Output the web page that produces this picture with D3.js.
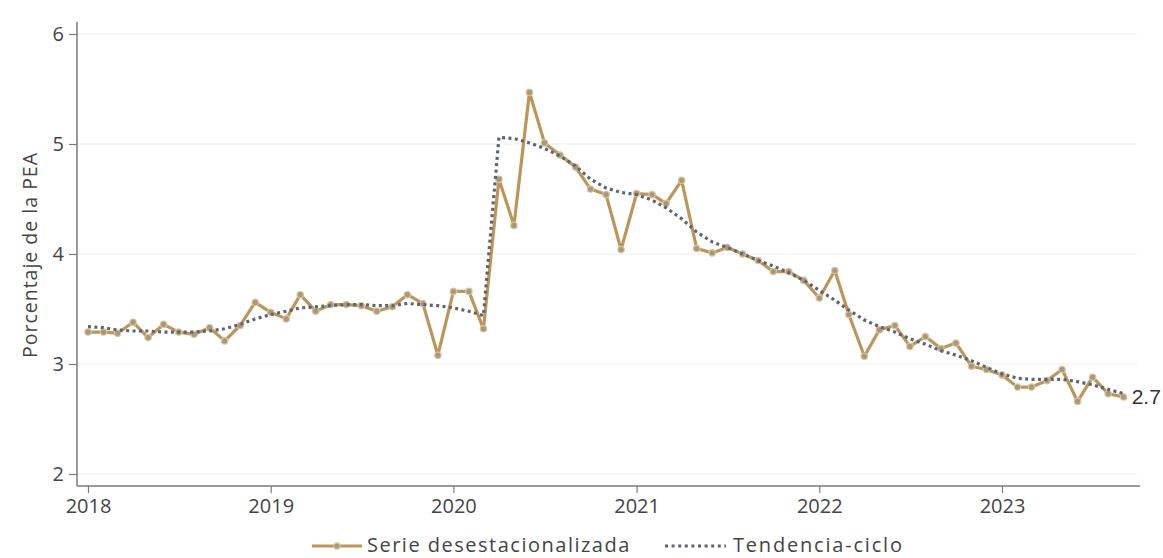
<!DOCTYPE html>
<html>
<head>
<meta charset="utf-8">
<script src="https://cdn.jsdelivr.net/npm/d3@7"></script>
<style>
  html, body { margin: 0; padding: 0; background: #ffffff; }
  svg { display: block; font-family: "Open Sans", "Noto Sans", sans-serif; }
</style>
</head>
<body>
<svg id="chart" width="1163" height="558"></svg>
<script>
// ---- Data (monthly, Jan 2018 – Sep 2023) ----
const startMonth = "2018-01";
const seriesValues = [
  3.29,3.29,3.28,3.38,3.24,3.36,3.29,3.27,3.33,3.21,3.35,3.56,
  3.47,3.41,3.63,3.48,3.54,3.54,3.53,3.48,3.52,3.63,3.55,3.08,
  3.66,3.66,3.32,4.68,4.26,5.47,5.01,4.90,4.79,4.59,4.54,4.04,
  4.55,4.54,4.46,4.67,4.05,4.01,4.06,4.00,3.94,3.84,3.84,3.76,
  3.60,3.85,3.45,3.07,3.31,3.35,3.16,3.25,3.14,3.19,2.98,2.95,
  2.90,2.79,2.79,2.85,2.95,2.66,2.88,2.73,2.70
];
const trendValues = [
  3.34,3.33,3.31,3.30,3.30,3.29,3.29,3.29,3.30,3.32,3.36,3.41,
  3.45,3.48,3.51,3.52,3.53,3.54,3.54,3.53,3.53,3.55,3.54,3.53,
  3.51,3.48,3.44,5.06,5.05,5.01,4.96,4.89,4.80,4.68,4.60,4.56,
  4.54,4.49,4.42,4.32,4.20,4.11,4.06,4.00,3.94,3.89,3.83,3.76,
  3.67,3.58,3.49,3.40,3.34,3.29,3.23,3.18,3.12,3.08,3.03,2.97,
  2.91,2.87,2.86,2.86,2.86,2.84,2.81,2.77,2.73
];
const yearTicks = ["2018","2019","2020","2021","2022","2023"];
const yTicks = [2, 3, 4, 5, 6];
const seriesNames = ["Serie desestacionalizada", "Tendencia-ciclo"];
const yTitle = "Porcentaje de la PEA";
const lastLabel = "2.7";

// ---- Setup ----
const svg = d3.select("#chart");
const parseMonth = d3.timeParse("%Y-%m");
const start = parseMonth(startMonth);
const dates = seriesValues.map((_, i) => d3.timeMonth.offset(start, i));
const seriesData = seriesValues.map((v, i) => ({ date: dates[i], value: v }));
const trendData = trendValues.map((v, i) => ({ date: dates[i], value: v }));

const x = d3.scaleTime()
  .domain([parseMonth("2018-01"), parseMonth("2023-01")])
  .range([88, 1002]);
const y = d3.scaleLinear().domain([2, 6]).range([474, 34]);

const textColor = "#444444";
const axisColor = "#7a7a7a";
const gold = "#BC955C";
const trendColor = "#5d6570";

// gridlines
svg.append("g")
  .selectAll("line")
  .data(yTicks)
  .join("line")
  .attr("x1", 78).attr("x2", 1137)
  .attr("y1", d => y(d)).attr("y2", d => y(d))
  .attr("stroke", "#eeeeee").attr("stroke-width", 1);

// y axis
const yAxis = d3.axisLeft(y).tickValues(yTicks).tickSize(8).tickPadding(5).tickFormat(d3.format("d"));
const gy = svg.append("g").attr("transform", "translate(77,0)").call(yAxis);
gy.select(".domain").remove();
gy.append("line").attr("x1", 0).attr("x2", 0).attr("y1", 22).attr("y2", 486)
  .attr("stroke", axisColor).attr("stroke-width", 1.5);
gy.selectAll(".tick line").attr("stroke", axisColor).attr("stroke-width", 1.2);
gy.selectAll(".tick text").attr("fill", textColor).style("font-size", "20px")
  .style("font-family", "'Open Sans', sans-serif");

// x axis
const yearDates = yearTicks.map(t => d3.timeParse("%Y")(t));
const xAxis = d3.axisBottom(x).tickValues(yearDates).tickSize(7).tickPadding(6)
  .tickFormat((d, i) => yearTicks[i]);
const gx = svg.append("g").attr("transform", "translate(0,486)").call(xAxis);
gx.select(".domain").remove();
gx.append("line").attr("x1", 77).attr("x2", 1140).attr("y1", 0).attr("y2", 0)
  .attr("stroke", axisColor).attr("stroke-width", 1.5);
gx.selectAll(".tick line").attr("stroke", axisColor).attr("stroke-width", 1.2);
gx.selectAll(".tick text").attr("fill", textColor).style("font-size", "20px")
  .style("font-family", "'Open Sans', sans-serif");

// y title
svg.append("text")
  .attr("transform", "translate(37,255) rotate(-90)")
  .attr("text-anchor", "middle")
  .attr("fill", textColor)
  .style("font-size", "19.5px")
  .style("letter-spacing", "1px")
  .text(yTitle);

// lines
const line = d3.line().x(d => x(d.date)).y(d => y(d.value));

svg.append("path")
  .datum(seriesData)
  .attr("d", line)
  .attr("fill", "none")
  .attr("stroke", gold)
  .attr("stroke-width", 3.2)
  .attr("stroke-linejoin", "round");

svg.append("g")
  .selectAll("circle")
  .data(seriesData)
  .join("circle")
  .attr("cx", d => x(d.date))
  .attr("cy", d => y(d.value))
  .attr("r", 3.2)
  .attr("fill", "#a39a84")
  .attr("stroke", "#dcc596")
  .attr("stroke-width", 1.2);

svg.append("path")
  .datum(trendData)
  .attr("d", line)
  .attr("fill", "none")
  .attr("stroke", trendColor)
  .attr("stroke-width", 3.2)
  .attr("stroke-dasharray", "3,3.4");

// last value label
const last = seriesData[seriesData.length - 1];
svg.append("text")
  .attr("x", x(last.date) + 8)
  .attr("y", y(last.value) + 7)
  .attr("fill", "#333333")
  .style("font-family", "'Liberation Sans', Arial, sans-serif")
  .style("font-size", "21px")
  .text(lastLabel);

// legend
const lg = svg.append("g").attr("transform", "translate(0,546)");
lg.append("line").attr("x1", 312).attr("x2", 362).attr("y1", 0).attr("y2", 0)
  .attr("stroke", gold).attr("stroke-width", 3.2);
lg.append("circle").attr("cx", 337).attr("cy", 0).attr("r", 3.2)
  .attr("fill", "#a39a84").attr("stroke", "#dcc596").attr("stroke-width", 1.2);
lg.append("text").attr("x", 367).attr("y", 6).attr("fill", textColor)
  .style("font-size", "20px").style("letter-spacing", "1.5px").text(seriesNames[0]);
lg.append("line").attr("x1", 665).attr("x2", 726).attr("y1", 0).attr("y2", 0)
  .attr("stroke", trendColor).attr("stroke-width", 3.2).attr("stroke-dasharray", "3,3.6");
lg.append("text").attr("x", 733).attr("y", 6).attr("fill", textColor)
  .style("font-size", "20px").style("letter-spacing", "1.8px").text(seriesNames[1]);
</script>
</body>
</html>
